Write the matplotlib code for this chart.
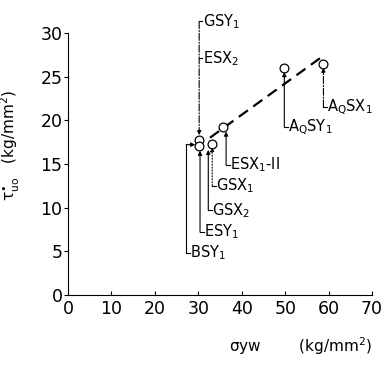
import matplotlib.pyplot as plt

# test specimens: sigma_yw vs tau*_uo
sig_yw = [30.2, 30.2, 33.1, 35.8, 49.8, 58.8]
tau_uo = [17.7, 17.1, 17.3, 19.2, 26.0, 26.4]

# dashed trend line end points
fit_x = [32.7, 58.3]
fit_y = [18.0, 27.2]

# label, arrow tip (x, y), leader bottom y, line style
labels = [
    ('ESX$_1$-II', 36.4, 18.7, 14.9, '-'),
    ('GSX$_1$', 33.2, 16.9, 12.5, ':'),
    ('GSX$_2$', 32.3, 16.6, 9.7, '-'),
    ('ESY$_1$', 30.4, 16.5, 7.2, '-'),
    ('A$_Q$SY$_1$', 49.8, 25.5, 19.2, '-'),
    ('A$_Q$SX$_1$', 58.8, 26.0, 21.5, '-.'),
]

plt.rcParams['font.family'] = 'DejaVu Sans'
plt.rcParams['mathtext.default'] = 'regular'
fig = plt.figure(figsize=(3.86, 3.65), dpi=100)
ax = fig.add_axes([0.176, 0.192, 0.788, 0.718])

ax.plot(fit_x, fit_y, '--', color='black', lw=1.6, dashes=(5, 3))
ax.scatter(sig_yw, tau_uo, s=40, facecolors='white', edgecolors='black', lw=0.9, zorder=3)

for name, x, ytip, ybot, ls in labels:
    ax.annotate('', xy=(x, ytip), xytext=(x, ybot),
                arrowprops=dict(arrowstyle='-|>', color='black', lw=0.8, ls=ls,
                                mutation_scale=6, shrinkA=0, shrinkB=0))
    ax.plot([x, x + 0.8], [ybot, ybot], color='black', lw=0.8)
    ax.text(x + 0.9, ybot, name, ha='left', va='center', fontsize=10.5)

# GSY1 / ESX2 share one leader from above
ax.annotate('', xy=(30.2, 18.3), xytext=(30.2, 31.3),
            arrowprops=dict(arrowstyle='-|>', color='black', lw=0.8, ls='-.',
                            mutation_scale=6, shrinkA=0, shrinkB=0),
            annotation_clip=False)
ax.plot([30.2, 30.9], [31.3, 31.3], color='black', lw=0.8, clip_on=False)
ax.plot([30.2, 30.9], [27.1, 27.1], color='black', lw=0.8, clip_on=False)
ax.text(31.0, 31.3, 'GSY$_1$', ha='left', va='center', fontsize=10.5, clip_on=False)
ax.text(31.0, 27.1, 'ESX$_2$', ha='left', va='center', fontsize=10.5)

# BSY1 leader goes up then right
ax.plot([27.2, 27.2], [4.8, 17.2], color='black', lw=0.8)
ax.plot([27.2, 28.0], [4.8, 4.8], color='black', lw=0.8)
ax.annotate('', xy=(29.3, 17.2), xytext=(27.2, 17.2),
            arrowprops=dict(arrowstyle='-|>', color='black', lw=0.8,
                            mutation_scale=6, shrinkA=0, shrinkB=0))
ax.text(28.1, 4.8, 'BSY$_1$', ha='left', va='center', fontsize=10.5)

ax.set_xlim(0, 70)
ax.set_ylim(0, 30)
ax.set_xticks(range(0, 71, 10))
ax.set_yticks(range(0, 31, 5))
ax.tick_params(axis='x', direction='in', length=3, labelsize=12.5, pad=4)
ax.tick_params(axis='y', direction='out', length=3, labelsize=12.5, pad=1)
ax.spines['top'].set_visible(False)
ax.spines['right'].set_visible(False)

ax.set_xlabel('$\\sigma$yw        (kg/mm$^2$)', fontsize=11, loc='right', labelpad=12)
ax.set_ylabel('$\\tau^{\\bullet}_{uo}$   (kg/mm$^2$)', fontsize=11)
ax.yaxis.set_label_coords(-0.15, 0.57)

fig.savefig('out.png', dpi=100)
